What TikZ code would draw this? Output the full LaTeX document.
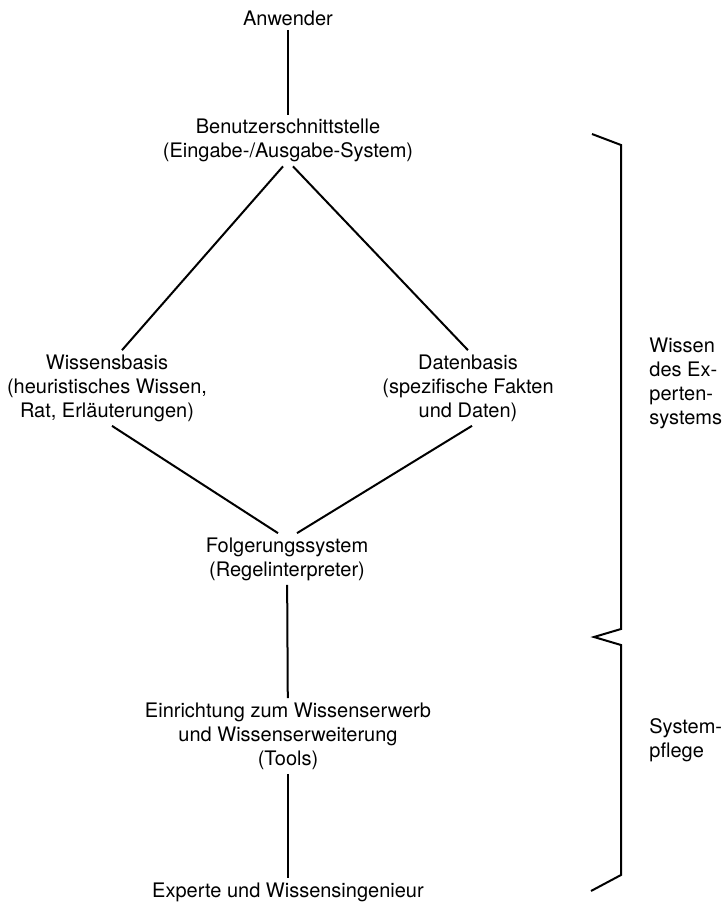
\documentclass[tikz,border=0pt]{standalone}
\usepackage{fontspec}
\setmainfont{TeX Gyre Heros}
\usepackage{tikz}

\tikzset{
  txt/.style={font=\fontsize{10}{12}\selectfont, align=center, inner sep=2pt},
  side_txt/.style={font=\fontsize{10}{12}\selectfont, align=left, anchor=west, inner sep=0pt},
  link/.style={line width=1pt},
}

\begin{document}
\begin{tikzpicture}[x=0.5pt, y=-0.5pt]
\useasboundingbox (0,0) rectangle (724,907);

\node[txt] (user) at (288,18) {Anwender};
\node[txt] (ui_sys) at (288,140.5) {Benutzerschnittstelle\\(Eingabe-/Ausgabe-System)};
\node[txt] (kb_base) at (107,388) {Wissensbasis\\(heuristisches Wissen,\\Rat, Erläuterungen)};
\node[txt] (db_base) at (468,388) {Datenbasis\\(spezifische Fakten\\und Daten)};
\node[txt] (infer) at (287,559) {Folgerungssystem\\(Regelinterpreter)};
\node[txt] (acq) at (288,736) {Einrichtung zum Wissenserwerb\\und Wissenserweiterung\\(Tools)};
\node[txt] (expert) at (288,892) {Experte und Wissensingenieur};

\draw[link] (user) -- (ui_sys);
\draw[link] ([xshift=-2.5pt]ui_sys.south) -- ([xshift=7.5pt]kb_base.north);
\draw[link] ([xshift=2.5pt]ui_sys.south) -- (db_base.north);
\draw[link] ([xshift=2.5pt]kb_base.south) -- ([xshift=-4.5pt]infer.north);
\draw[link] ([xshift=2pt]db_base.south) -- ([xshift=5pt]infer.north);
\draw[link] (infer) -- (acq);
\draw[link] (acq) -- (expert);

% brace on the right
\draw[link] (592,134) -- (621,145) -- (621,629) -- (594,637) -- (621,645) -- (621,875) -- (591,891);
\node[side_txt] (brace_top) at (649,383) {Wissen\\des Ex-\\perten-\\systems};
\node[side_txt] (brace_bot) at (649,740) {System-\\pflege};
\end{tikzpicture}
\end{document}
